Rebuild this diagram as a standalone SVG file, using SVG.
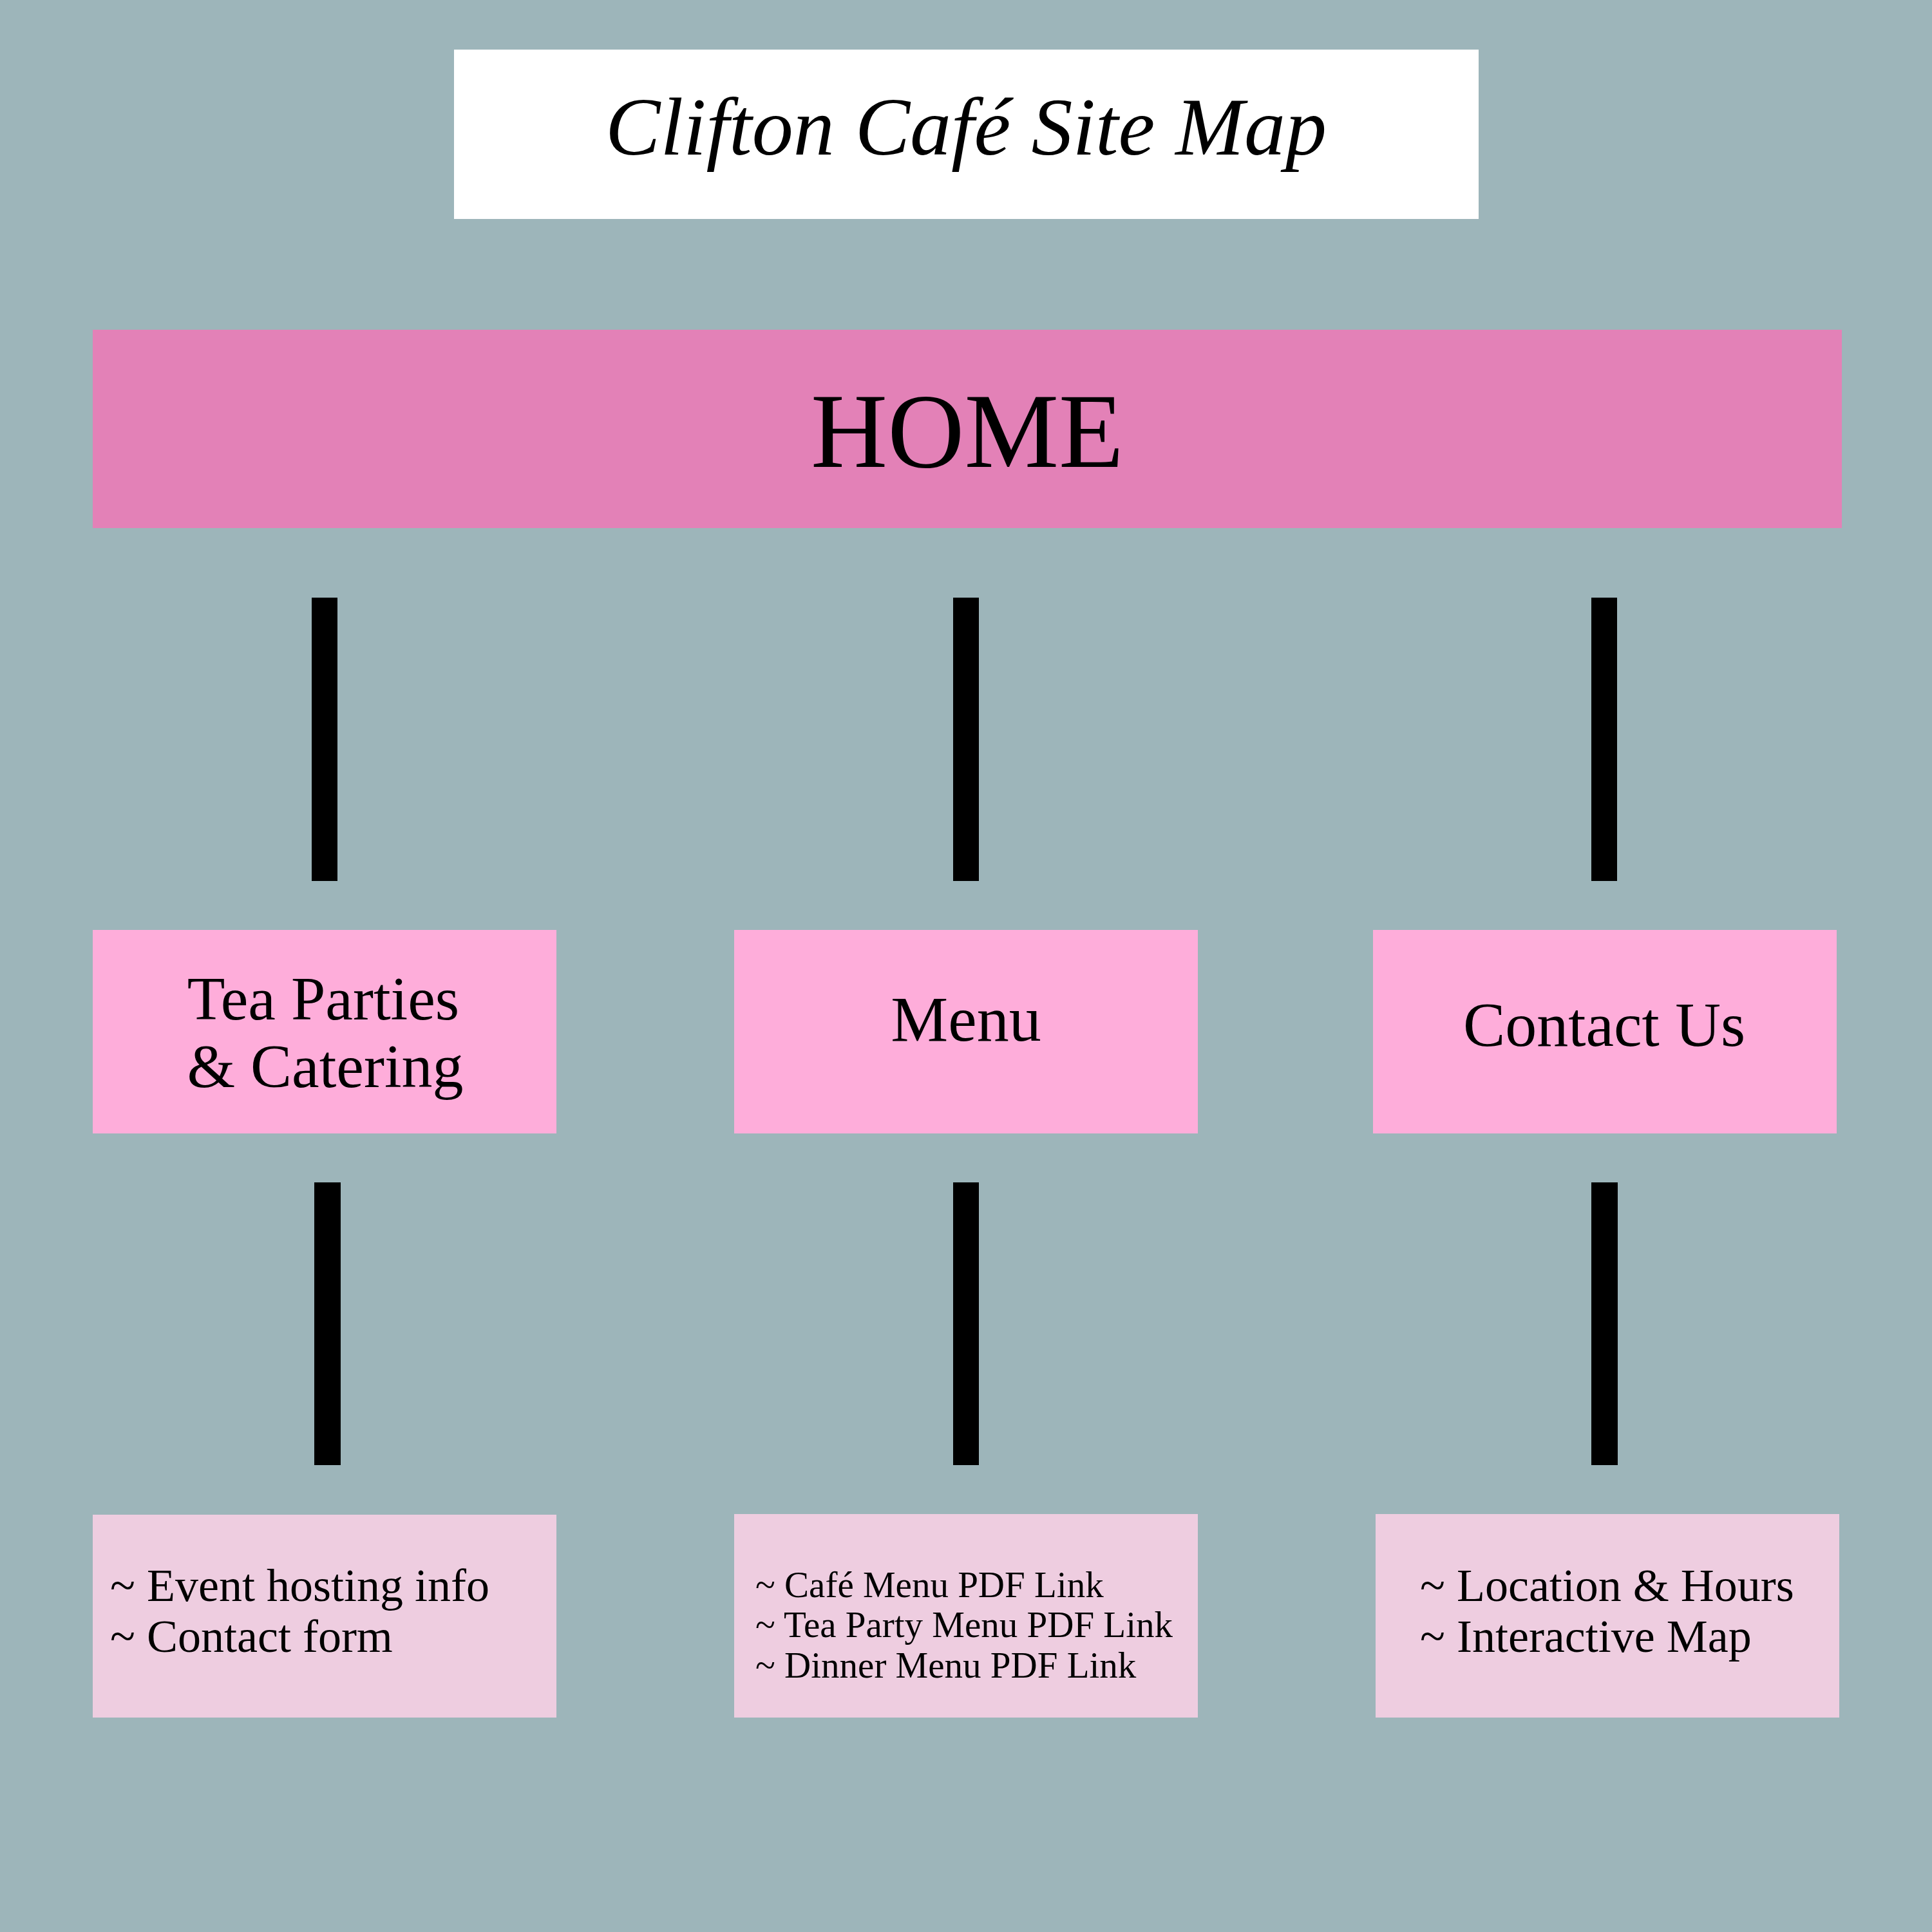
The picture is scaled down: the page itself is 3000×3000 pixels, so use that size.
<svg xmlns="http://www.w3.org/2000/svg" width="3000" height="3000" viewBox="0 0 3000 3000">
<style>
.t{font-family:"Liberation Serif","Times New Roman",serif;fill:#000}
.mid{fill:#FEADDA}
.sub{fill:#EECDE0}
.bar{fill:#000}
</style>
<rect width="3000" height="3000" fill="#9DB5BA"/>
<g id="title">
<rect x="705" y="77" width="1591" height="263" fill="#FFFFFF"/>
<text class="t" x="1500" y="240" font-size="128" font-style="italic" text-anchor="middle">Clifton Café Site Map</text>
</g>
<g id="home">
<rect x="144" y="512" width="2716" height="308" fill="#E381B7"/>
<text class="t" x="1502" y="725" font-size="165" text-anchor="middle">HOME</text>
</g>
<g id="connectors">
<rect class="bar" x="484" y="928" width="40" height="440"/>
<rect class="bar" x="1480" y="928" width="40" height="440"/>
<rect class="bar" x="2471" y="928" width="40" height="440"/>
<rect class="bar" x="488" y="1836" width="41" height="439"/>
<rect class="bar" x="1480" y="1836" width="40" height="439"/>
<rect class="bar" x="2471" y="1836" width="41" height="439"/>
</g>
<g id="tea-parties">
<rect class="mid" x="144" y="1444" width="720" height="316"/>
<text class="t" x="502" y="1583" font-size="96" text-anchor="middle">Tea Parties</text>
<text class="t" x="505" y="1688" font-size="96" text-anchor="middle">&amp; Catering</text>
</g>
<g id="menu">
<rect class="mid" x="1140" y="1444" width="720" height="316"/>
<text class="t" x="1500" y="1616" font-size="100" text-anchor="middle">Menu</text>
</g>
<g id="contact-us">
<rect class="mid" x="2132" y="1444" width="720" height="316"/>
<text class="t" x="2491" y="1624" font-size="98" text-anchor="middle">Contact Us</text>
</g>
<g id="tea-parties-sub">
<rect class="sub" x="144" y="2352" width="720" height="315"/>
<text class="t" x="171" y="2486" font-size="72">~ Event hosting info</text>
<text class="t" x="171" y="2565" font-size="72">~ Contact form</text>
</g>
<g id="menu-sub">
<rect class="sub" x="1140" y="2351" width="720" height="316"/>
<text class="t" x="1173" y="2480" font-size="57">~ Café Menu PDF Link</text>
<text class="t" x="1173" y="2542" font-size="57">~ Tea Party Menu PDF Link</text>
<text class="t" x="1173" y="2605" font-size="57">~ Dinner Menu PDF Link</text>
</g>
<g id="contact-sub">
<rect class="sub" x="2136" y="2351" width="720" height="316"/>
<text class="t" x="2205" y="2486" font-size="72">~ Location &amp; Hours</text>
<text class="t" x="2205" y="2565" font-size="72">~ Interactive Map</text>
</g>
</svg>
